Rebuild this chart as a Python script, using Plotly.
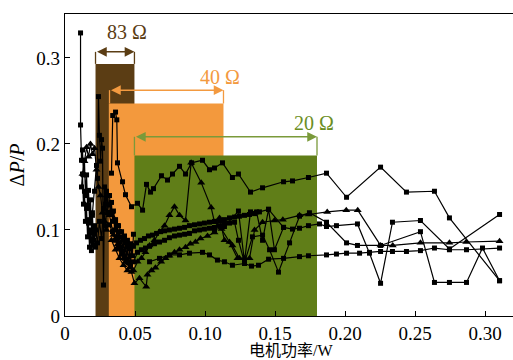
import plotly.graph_objects as go

# ---------------- data ----------------
s1_x = [0.0111, 0.0111, 0.0118, 0.0125, 0.0132, 0.0139, 0.0146, 0.0154, 0.0161, 0.0168, 0.0175, 0.0182, 0.0189, 0.0196, 0.0204, 0.0211]
s1_y = [0.329, 0.222, 0.181, 0.193, 0.164, 0.181, 0.140, 0.164, 0.129, 0.146, 0.112, 0.135, 0.100, 0.117, 0.088, 0.105]

s1b_x = [0.0118, 0.0125, 0.0132, 0.0139, 0.0146, 0.0154, 0.0161, 0.0168, 0.0175, 0.0182, 0.0189, 0.0196, 0.0204, 0.0211, 0.0218]
s1b_y = [0.150, 0.165, 0.130, 0.145, 0.110, 0.125, 0.092, 0.108, 0.080, 0.096, 0.076, 0.090, 0.082, 0.095, 0.080]

s2_x = [0.0125, 0.0139, 0.0154, 0.0168, 0.0182, 0.0196, 0.0211, 0.0225, 0.0239, 0.0254, 0.0268, 0.0282, 0.0296]
s2_y = [0.165, 0.180, 0.196, 0.185, 0.200, 0.188, 0.195, 0.170, 0.150, 0.140, 0.120, 0.110, 0.100]

s3_x = [0.0196, 0.0211, 0.0225, 0.0232, 0.0239, 0.0246, 0.0254, 0.0261, 0.0268, 0.0275, 0.0282, 0.0289, 0.0296, 0.0304]
s3_y = [0.120, 0.145, 0.175, 0.160, 0.255, 0.210, 0.180, 0.205, 0.195, 0.036, 0.150, 0.130, 0.145, 0.120]

s4_x = [0.0218, 0.0232, 0.0246, 0.0261, 0.0275, 0.0289, 0.0304, 0.0318]
s4_y = [0.100, 0.085, 0.110, 0.090, 0.125, 0.105, 0.140, 0.120]

a_x = [0.0332, 0.0341, 0.0361, 0.0370, 0.0375, 0.0411, 0.0432, 0.0475, 0.0518, 0.0554, 0.0582, 0.0611, 0.0632, 0.0689,
       0.0732, 0.0768, 0.0818, 0.0861, 0.0904, 0.0982, 0.1032, 0.1068, 0.1125, 0.1196, 0.1239, 0.1325, 0.1411, 0.1561,
       0.1625, 0.1739, 0.1868, 0.2011, 0.2254, 0.2439, 0.2639, 0.2746, 0.3104]
a_y = [0.166, 0.233, 0.237, 0.228, 0.178, 0.156, 0.141, 0.127, 0.131, 0.123, 0.153, 0.144, 0.148, 0.163,
       0.158, 0.165, 0.174, 0.165, 0.178, 0.181, 0.170, 0.172, 0.178, 0.161, 0.165, 0.144, 0.149, 0.156,
       0.157, 0.161, 0.166, 0.138, 0.173, 0.144, 0.145, 0.114, 0.041]

f1_x = [0.0318, 0.0339, 0.0361, 0.0382, 0.0404, 0.0425, 0.0446, 0.0468, 0.0489, 0.0511, 0.0539, 0.0568, 0.0596, 0.0625,
        0.0654, 0.0682, 0.0711, 0.0746, 0.0782, 0.0818, 0.0854, 0.0889, 0.0925, 0.0961, 0.0996, 0.1032, 0.1068, 0.1104,
        0.1139, 0.1175, 0.1211, 0.1246, 0.1282, 0.1318, 0.1354, 0.1389, 0.1454,
        0.1561, 0.1625, 0.1675, 0.1739, 0.1818, 0.1868, 0.1939, 0.2089, 0.2175, 0.2254, 0.2339, 0.2539, 0.2746, 0.3104]
f1_y = [0.129, 0.121, 0.111, 0.105, 0.098, 0.093, 0.088, 0.084, 0.081, 0.085, 0.088, 0.090, 0.093, 0.094,
        0.096, 0.098, 0.099, 0.100, 0.101, 0.102, 0.103, 0.105, 0.106, 0.107, 0.108, 0.109, 0.110, 0.111,
        0.112, 0.114, 0.115, 0.116, 0.117, 0.118, 0.119, 0.121, 0.124,
        0.103, 0.101, 0.102, 0.105, 0.107, 0.104, 0.105, 0.107, 0.073, 0.038, 0.109, 0.111, 0.078, 0.118]

f2_x = [0.0318, 0.0339, 0.0361, 0.0382, 0.0404, 0.0425, 0.0446, 0.0468, 0.0489, 0.0518, 0.0546, 0.0575, 0.0604, 0.0639,
        0.0675, 0.0711, 0.0746, 0.0782, 0.0818, 0.0854, 0.0889, 0.0925, 0.0961, 0.0996, 0.1032, 0.1068, 0.1104, 0.1139,
        0.1175, 0.1211, 0.1239, 0.1282, 0.1339, 0.1411, 0.1461, 0.1525, 0.1604, 0.1675, 0.1746, 0.1868, 0.2011, 0.2089,
        0.2254, 0.2539, 0.2639, 0.2746, 0.2868, 0.2982, 0.3104]
f2_y = [0.106, 0.098, 0.088, 0.079, 0.074, 0.067, 0.063, 0.059, 0.063, 0.074, 0.077, 0.079, 0.081, 0.084,
        0.086, 0.088, 0.091, 0.093, 0.094, 0.095, 0.096, 0.099, 0.100, 0.101, 0.102, 0.103, 0.105, 0.107,
        0.108, 0.109, 0.088, 0.062, 0.092, 0.094, 0.077, 0.051, 0.085, 0.116, 0.120, 0.109, 0.085, 0.082,
        0.082, 0.098, 0.039, 0.039, 0.039, 0.079, 0.041]

t1_x = [0.0332, 0.0361, 0.0389, 0.0418, 0.0446, 0.0475, 0.0496, 0.0532, 0.0580, 0.0589, 0.0618, 0.0646, 0.0687, 0.0718,
        0.0746, 0.0782, 0.0818, 0.0861, 0.0896, 0.0932, 0.0968, 0.1018, 0.1068, 0.1104, 0.1139, 0.1196, 0.1246, 0.1282,
        0.1318, 0.1354, 0.1411, 0.1496, 0.1556, 0.1675, 0.1741, 0.1873, 0.2009, 0.2091, 0.2254, 0.2341, 0.2539, 0.2746,
        0.2866, 0.3104]
t1_y = [0.088, 0.077, 0.067, 0.059, 0.053, 0.051, 0.038, 0.044, 0.034, 0.048, 0.053, 0.056, 0.063, 0.067,
        0.070, 0.074, 0.077, 0.080, 0.084, 0.086, 0.090, 0.093, 0.097, 0.114, 0.088, 0.082, 0.067, 0.067,
        0.067, 0.100, 0.109, 0.111, 0.112, 0.117, 0.118, 0.121, 0.123, 0.123, 0.082, 0.082, 0.085, 0.085,
        0.086, 0.087]

t2_x = [0.0318, 0.0346, 0.0375, 0.0404, 0.0432, 0.0461, 0.0489, 0.0518, 0.0546, 0.0575, 0.0604, 0.0639, 0.0675, 0.0711,
        0.0746, 0.0782, 0.0818, 0.0861, 0.0901, 0.0973, 0.1044, 0.1068, 0.1118, 0.1175, 0.1232]
t2_y = [0.117, 0.094, 0.083, 0.071, 0.063, 0.056, 0.053, 0.063, 0.067, 0.074, 0.082, 0.088, 0.098, 0.105,
        0.117, 0.127, 0.117, 0.111, 0.178, 0.155, 0.126, 0.109, 0.101, 0.086, 0.067]

low_x = [0.0604, 0.0675, 0.0746, 0.0818, 0.0889, 0.0982, 0.1032, 0.1089, 0.1139, 0.1196, 0.1282, 0.1332, 0.1382, 0.1454,
         0.1561, 0.1675, 0.1739, 0.1868, 0.1939, 0.2011, 0.2104, 0.2175, 0.2254, 0.2339, 0.2439, 0.2539, 0.2639, 0.2746,
         0.2868, 0.3104]
low_y = [0.063, 0.067, 0.071, 0.071, 0.073, 0.074, 0.071, 0.065, 0.063, 0.059, 0.061, 0.058, 0.059, 0.066,
         0.067, 0.069, 0.070, 0.071, 0.072, 0.073, 0.073, 0.074, 0.075, 0.075, 0.075, 0.076, 0.079, 0.077,
         0.077, 0.079]

z_x = [0.1068, 0.1139, 0.1239, 0.1282, 0.1325, 0.1368, 0.1411, 0.1454, 0.1496, 0.1561]
z_y = [0.100, 0.104, 0.122, 0.063, 0.121, 0.121, 0.088, 0.124, 0.077, 0.103]

e1_x = [0.0318, 0.0325, 0.0332, 0.0339, 0.0346, 0.0354, 0.0361, 0.0368, 0.0375, 0.0382, 0.0389, 0.0396, 0.0404, 0.0411,
        0.0418, 0.0425, 0.0432, 0.0439, 0.0446, 0.0454, 0.0461, 0.0468, 0.0475, 0.0482, 0.0489]
e1_y = [0.140, 0.120, 0.132, 0.110, 0.122, 0.100, 0.112, 0.092, 0.105, 0.085, 0.098, 0.080, 0.092, 0.075,
        0.088, 0.070, 0.085, 0.066, 0.080, 0.062, 0.078, 0.058, 0.082, 0.070, 0.095]

square_series = [(s1_x, s1_y), (s1b_x, s1b_y), (s3_x, s3_y), (s4_x, s4_y), (e1_x, e1_y),
                 (a_x, a_y), (f1_x, f1_y), (f2_x, f2_y), (low_x, low_y), (z_x, z_y)]
triangle_series = [(s2_x, s2_y), (t1_x, t1_y), (t2_x, t2_y)]

# resistance bands
band_labels = ["83 Ω", "40 Ω", "20 Ω"]
band_x0 = [0.0218, 0.0313, 0.0496]
band_x1 = [0.0496, 0.1132, 0.1800]
band_top = [0.293, 0.247, 0.1866]
arrow_y = [0.307, 0.2625, 0.2083]
arrow_x0 = [0.0218, 0.0318, 0.0496]
band_fill = ["#5b3d14", "#f3993d", "#607e18"]
band_line = ["#5b3d14", "#f39a40", "#7a9a3a"]
label_color = ["#5b3d14", "#f39a40", "#6b8e23"]
label_x = [0.0446, 0.111, 0.1775]
label_y = [0.330, 0.278, 0.224]

x_title = "电机功率/W"
y_title = "Δ<i>P</i>/<i>P</i>"
xtick_vals = [0, 0.05, 0.10, 0.15, 0.20, 0.25, 0.30]
xtick_text = ["0", "0.05", "0.10", "0.15", "0.20", "0.25", "0.30"]
ytick_vals = [0, 0.1, 0.2, 0.3]
ytick_text = ["0", "0.1", "0.2", "0.3"]

SERIF = "'Liberation Serif', 'DejaVu Serif', serif"
SERIF_CJK = "'Liberation Serif', 'Noto Sans CJK SC', serif"

# ---------------- figure ----------------
fig = go.Figure()

for xs, ys in square_series:
    fig.add_trace(go.Scatter(x=xs, y=ys, mode="lines+markers",
                             line=dict(color="black", width=1.2),
                             marker=dict(symbol="square", size=5, color="black"),
                             showlegend=False, cliponaxis=False))
for xs, ys in triangle_series:
    fig.add_trace(go.Scatter(x=xs, y=ys, mode="lines+markers",
                             line=dict(color="black", width=1.2),
                             marker=dict(symbol="triangle-up", size=7, color="black"),
                             showlegend=False, cliponaxis=False))

shapes = []
annotations = []
for i in range(3):
    shapes.append(dict(type="rect", xref="x", yref="y", x0=band_x0[i], x1=band_x1[i], y0=0, y1=band_top[i],
                       fillcolor=band_fill[i], line=dict(width=0), layer="below"))
for i in range(3):
    for xv in (arrow_x0[i], band_x1[i]):
        shapes.append(dict(type="line", xref="x", yref="y", x0=xv, x1=xv, y0=band_top[i], y1=arrow_y[i],
                           line=dict(color=band_line[i], width=1.3), layer="below"))
    annotations.append(dict(x=band_x1[i], y=arrow_y[i], ax=arrow_x0[i], ay=arrow_y[i],
                            xref="x", yref="y", axref="x", ayref="y", text="", showarrow=True,
                            arrowhead=2, startarrowhead=2, arrowside="end+start",
                            arrowsize=1.3, arrowwidth=1.5, arrowcolor=band_line[i],
                            standoff=0, startstandoff=0))
    annotations.append(dict(x=label_x[i], y=label_y[i], xref="x", yref="y", text=band_labels[i],
                            showarrow=False, font=dict(family=SERIF, size=20, color=label_color[i])))

# x-axis title placed as paper annotation just below the tick labels
annotations.append(dict(x=0.505, y=-0.078, xref="paper", yref="paper", xanchor="center", yanchor="top",
                        text=x_title, showarrow=False, font=dict(family=SERIF_CJK, size=16, color="black")))

fig.update_layout(
    width=513, height=360,
    margin=dict(l=65, r=0, t=14, b=44),
    paper_bgcolor="white", plot_bgcolor="white",
    font=dict(family=SERIF, size=19, color="black"),
    shapes=shapes, annotations=annotations,
    xaxis=dict(range=[0, 0.32], tickvals=xtick_vals, ticktext=xtick_text,
               ticks="inside", ticklen=5, tickwidth=1, tickcolor="black",
               showline=True, linecolor="black", linewidth=1.3, mirror=True,
               showgrid=False, zeroline=False, automargin=False,
               tickfont=dict(family=SERIF, size=19)),
    yaxis=dict(range=[0, 0.351], tickvals=ytick_vals, ticktext=ytick_text,
               ticks="inside", ticklen=5, tickwidth=1, tickcolor="black",
               showline=True, linecolor="black", linewidth=1.3,
               showgrid=False, zeroline=False, automargin=False,
               tickfont=dict(family=SERIF, size=19),
               title=dict(text=y_title, standoff=6,
                          font=dict(family=SERIF, size=20))),
)

fig.write_html("out.html")
